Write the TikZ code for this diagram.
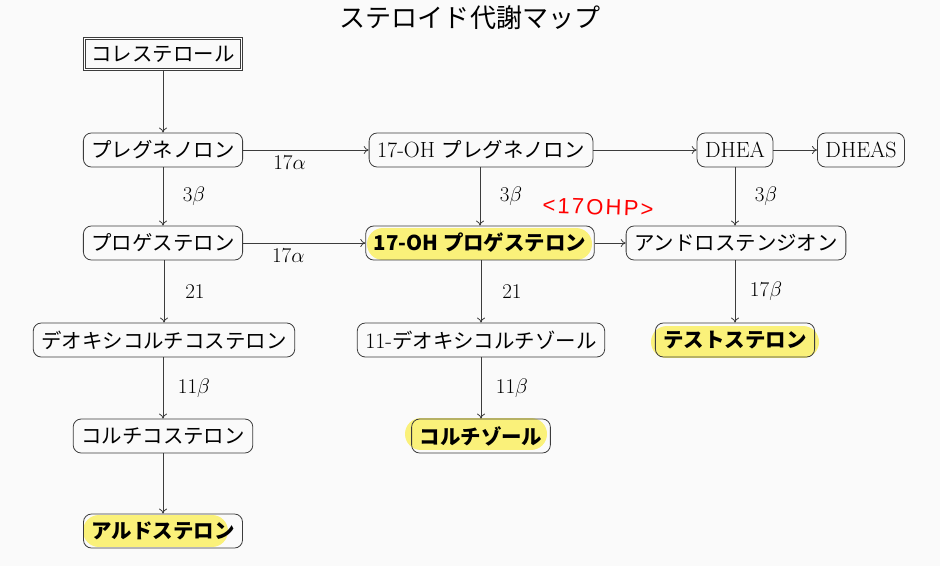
\documentclass[tikz,border=0pt]{standalone}
\usepackage{fix-cm}
\usepackage{fontspec}
\newfontfamily\jp{Noto Sans CJK JP}[Scale=0.93]
\newfontfamily\hand{Liberation Sans}[LetterSpace=10]
\usetikzlibrary{arrows.meta,backgrounds}
\definecolor{bgc}{RGB}{250,250,250}
\definecolor{hlyellow}{RGB}{250,241,122}
\definecolor{edgec}{RGB}{60,60,60}
\tikzset{
  box/.style={draw=edgec, line width=0.8pt, rounded corners=8pt, minimum height=34pt, inner xsep=8pt, inner ysep=3pt, font=\fontsize{22}{24}\selectfont},
  hlbox/.style={box, font=\jp\bfseries\fontsize{22}{24}\selectfont},
  dbox/.style={draw=edgec, double, double distance=1.6pt, line width=0.7pt, minimum height=31pt, inner xsep=7pt, font=\fontsize{22}{24}\selectfont},
  lbl/.style={inner sep=2pt, font=\fontsize{21}{24}\selectfont},
  arr/.style={draw=edgec, line width=0.8pt, -{To[length=5pt,width=8pt]}},
  marker/.style={draw=hlyellow, line width=32pt, line cap=round}
}
\begin{document}
\begin{tikzpicture}[x=1pt,y=-1pt]
\fill[bgc] (0,0) rectangle (940,566);
\useasboundingbox (0,0) rectangle (940,566);

\node (title) at (470,18) {\jp\fontsize{28}{30}\selectfont ステロイド代謝マップ};

% highlighter strokes
\draw[marker] (383,244) -- (576,244);
\draw[marker] (667,342) -- (803,342);
\draw[marker] (99,531) -- (212,531);
\draw[marker] (421,434) -- (531,434);

\node[dbox] (chol) at (163,54) {\jp コレステロール};
\node[box] (preg) at (163,150) {\jp プレグネノロン};
\node[box] (ohpreg) at (481,150) {17-OH {\jp プレグネノロン}};
\node[box] (dhea) at (735,150) {DHEA};
\node[box] (dheas) at (861,150) {DHEAS};
\node[box] (prog) at (163,243) {\jp プロゲステロン};
\node[hlbox] (ohprog) at (480,243) {17-OH プロゲステロン};
\node[box] (andro) at (736,243) {\jp アンドロステンジオン};
\node[box] (doc) at (164,340) {\jp デオキシコルチコステロン};
\node[box] (deoxy) at (481,340) {11-{\jp デオキシコルチゾール}};
\node[hlbox] (testo) at (735,340) {テストステロン};
\node[box] (cortico) at (163,436) {\jp コルチコステロン};
\node[hlbox] (cortisol) at (481,436) {コルチゾール};
\node[hlbox] (aldo) at (163,531) {アルドステロン};

\node[text=red, font=\hand\fontsize{22}{24}\selectfont, rotate=-2] (note) at (598,207) {<17OHP>};

\draw[arr] (chol) -- (preg);
\draw[arr] (preg) -- node[lbl, pos=0.37, below=4pt] (l1) {$17\alpha$} (ohpreg);
\draw[arr] (ohpreg) -- (dhea);
\draw[arr] (dhea) -- (dheas);
\draw[arr] (preg) -- node[lbl, midway, xshift=31pt] (l2) {$3\beta$} (prog);
\draw[arr] (ohpreg.south -| ohprog) -- node[lbl, midway, xshift=31pt] (l3) {$3\beta$} (ohprog);
\draw[arr] (dhea) -- node[lbl, midway, xshift=31pt] (l4) {$3\beta$} (dhea |- andro.north);
\draw[arr] (prog) -- node[lbl, pos=0.37, below=4pt] (l5) {$17\alpha$} (ohprog);
\draw[arr] (ohprog) -- (andro);
\draw[arr] (prog.south -| doc) -- node[lbl, midway, xshift=31pt] (l6) {$21$} (doc);
\draw[arr] (ohprog.south -| deoxy) -- node[lbl, midway, xshift=31pt] (l7) {$21$} (deoxy);
\draw[arr] (andro.south -| testo) -- node[lbl, midway, xshift=31pt] (l8) {$17\beta$} (testo);
\draw[arr] (doc.south -| cortico) -- node[lbl, midway, xshift=31pt] (l9) {$11\beta$} (cortico);
\draw[arr] (deoxy) -- node[lbl, midway, xshift=31pt] (l10) {$11\beta$} (cortisol);
\draw[arr] (cortico) -- (aldo);
\end{tikzpicture}
\end{document}
